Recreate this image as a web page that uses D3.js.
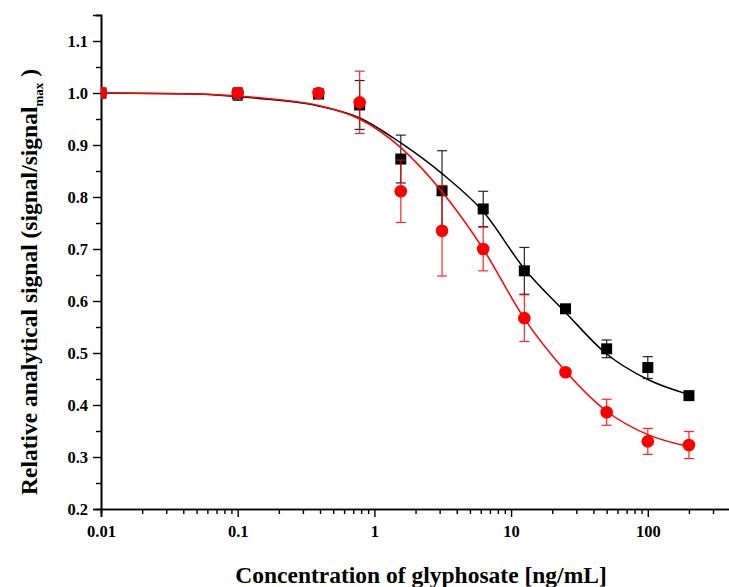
<!DOCTYPE html>
<html>
<head>
<meta charset="utf-8">
<script src="https://cdn.jsdelivr.net/npm/d3@7"></script>
<style>
  body { margin: 0; background: #fff; }
  text { font-family: 'Liberation Serif', serif; font-weight: bold; fill: #000; }
</style>
</head>
<body>
<div id="chart"></div>
<script>
// glyphosate concentrations, ng/mL
const conc = [0.01, 0.1, 0.39, 0.78, 1.56, 3.125, 6.25, 12.5, 25, 50, 100, 200];

// black squares
const blackY = [1.0, 0.998, 0.998, 0.977, 0.873, 0.812, 0.777, 0.658, 0.585, 0.508, 0.472, 0.418];
const blackErr = [0.005, 0.012, 0.008, 0.047, 0.046, 0.077, 0.034, 0.045, 0.006, 0.017, 0.021, 0.005];

// red circles
const redY = [1.0, 1.0, 1.0, 0.982, 0.811, 0.735, 0.7, 0.567, 0.463, 0.386, 0.33, 0.323];
const redErr = [0.01, 0.008, 0.006, 0.06, 0.06, 0.087, 0.042, 0.045, 0.006, 0.025, 0.025, 0.026];

// fitted curves
const fitX = [0.01, 0.05, 0.1, 0.2, 0.39, 0.78, 1.56, 3.125, 6.25, 12.5, 25, 50, 100, 200];
const blackFit = [1.0, 0.998, 0.993, 0.986, 0.975, 0.952, 0.904, 0.845, 0.772, 0.662, 0.578, 0.498, 0.449, 0.42];
const redFit = [1.0, 0.998, 0.994, 0.987, 0.976, 0.95, 0.895, 0.81, 0.7, 0.566, 0.465, 0.388, 0.343, 0.32];

const yTicks = [0.2, 0.3, 0.4, 0.5, 0.6, 0.7, 0.8, 0.9, 1.0, 1.1];
const xTickLabels = [0.01, 0.1, 1, 10, 100];

const width = 729;
const height = 587;
const left = 101;
const bottom = 509;
const decade = 136.7;

const svg = d3.select('#chart').append('svg')
  .attr('width', width)
  .attr('height', height);

const x = d3.scaleLog().domain([0.01, 1000]).range([left, left + 5 * decade]);
const y = d3.scaleLinear().domain([0.2, 1.15]).range([bottom, bottom - 0.95 * 520]);

svg.append('defs').append('clipPath').attr('id', 'plot')
  .append('rect')
  .attr('x', left).attr('y', 0)
  .attr('width', width - left).attr('height', bottom);

// x axis: major ticks at decades, minor ticks in between
const minorX = x.ticks().filter((v) => !xTickLabels.includes(v) && v < 1000);
const xAxis = svg.append('g').attr('transform', `translate(0, ${bottom})`);
xAxis.call(d3.axisBottom(x).tickValues(minorX).tickSize(5).tickFormat(''));
xAxis.append('g').call(
  d3.axisBottom(x).tickValues(xTickLabels).tickSize(8).tickPadding(8)
    .tickFormat((d) => String(d))
);

// y axis
const minorY = d3.range(0.25, 1.16, 0.1).map((v) => +v.toFixed(2));
const yAxis = svg.append('g').attr('transform', `translate(${left}, 0)`);
yAxis.call(d3.axisLeft(y).tickValues(minorY).tickSize(5).tickFormat(''));
yAxis.append('g').call(
  d3.axisLeft(y).tickValues(yTicks).tickSize(8).tickPadding(5)
    .tickFormat(d3.format('.1f'))
);

svg.selectAll('.domain').attr('stroke-width', 1.6);
svg.selectAll('.tick line').attr('stroke-width', 1.4);
svg.selectAll('.tick text').attr('font-size', 16.5).attr('font-family', 'Liberation Serif').attr('font-weight', 'bold');

// axis titles
svg.append('text')
  .attr('x', 421)
  .attr('y', 583)
  .attr('text-anchor', 'middle')
  .attr('font-size', 23.5)
  .text('Concentration of glyphosate [ng/mL]');

const yTitle = svg.append('text')
  .attr('transform', 'translate(37, 282) rotate(-90)')
  .attr('text-anchor', 'middle')
  .attr('font-size', 23.5);
yTitle.append('tspan').text('Relative analytical signal (signal/signal');
yTitle.append('tspan').attr('font-size', 13).attr('dy', 6).text('max');
yTitle.append('tspan').attr('dy', -6).text(' )');

const plot = svg.append('g').attr('clip-path', 'url(#plot)');

const line = d3.line()
  .x((d) => x(d[0]))
  .y((d) => y(d[1]))
  .curve(d3.curveMonotoneX);

function drawSeries(values, errs, fit, color, shape) {
  plot.append('path')
    .datum(fitX.map((v, i) => [v, fit[i]]))
    .attr('fill', 'none')
    .attr('stroke', color)
    .attr('stroke-width', 1.5)
    .attr('d', line);

  const pts = conc.map((c, i) => ({ c: c, v: values[i], e: errs[i] }));
  const bars = plot.append('g')
    .attr('stroke', color)
    .attr('stroke-width', 1.2)
    .attr('opacity', 0.85);

  bars.selectAll('.stem').data(pts).enter().append('line')
    .attr('x1', (d) => x(d.c)).attr('x2', (d) => x(d.c))
    .attr('y1', (d) => y(d.v + d.e)).attr('y2', (d) => y(d.v - d.e));

  [1, -1].forEach((s) => {
    bars.selectAll('.cap' + s).data(pts).enter().append('line')
      .attr('x1', (d) => x(d.c) - 5).attr('x2', (d) => x(d.c) + 5)
      .attr('y1', (d) => y(d.v + s * d.e)).attr('y2', (d) => y(d.v + s * d.e));
  });

  if (shape === 'square') {
    plot.append('g').selectAll('rect').data(pts).enter().append('rect')
      .attr('x', (d) => x(d.c) - 5.5).attr('y', (d) => y(d.v) - 5.5)
      .attr('width', 11).attr('height', 11)
      .attr('fill', color);
  } else {
    plot.append('g').selectAll('circle').data(pts).enter().append('circle')
      .attr('cx', (d) => x(d.c)).attr('cy', (d) => y(d.v))
      .attr('r', 6.3)
      .attr('fill', color);
  }
}

drawSeries(blackY, blackErr, blackFit, '#000', 'square');
drawSeries(redY, redErr, redFit, '#ff0000', 'circle');
</script>
</body>
</html>
